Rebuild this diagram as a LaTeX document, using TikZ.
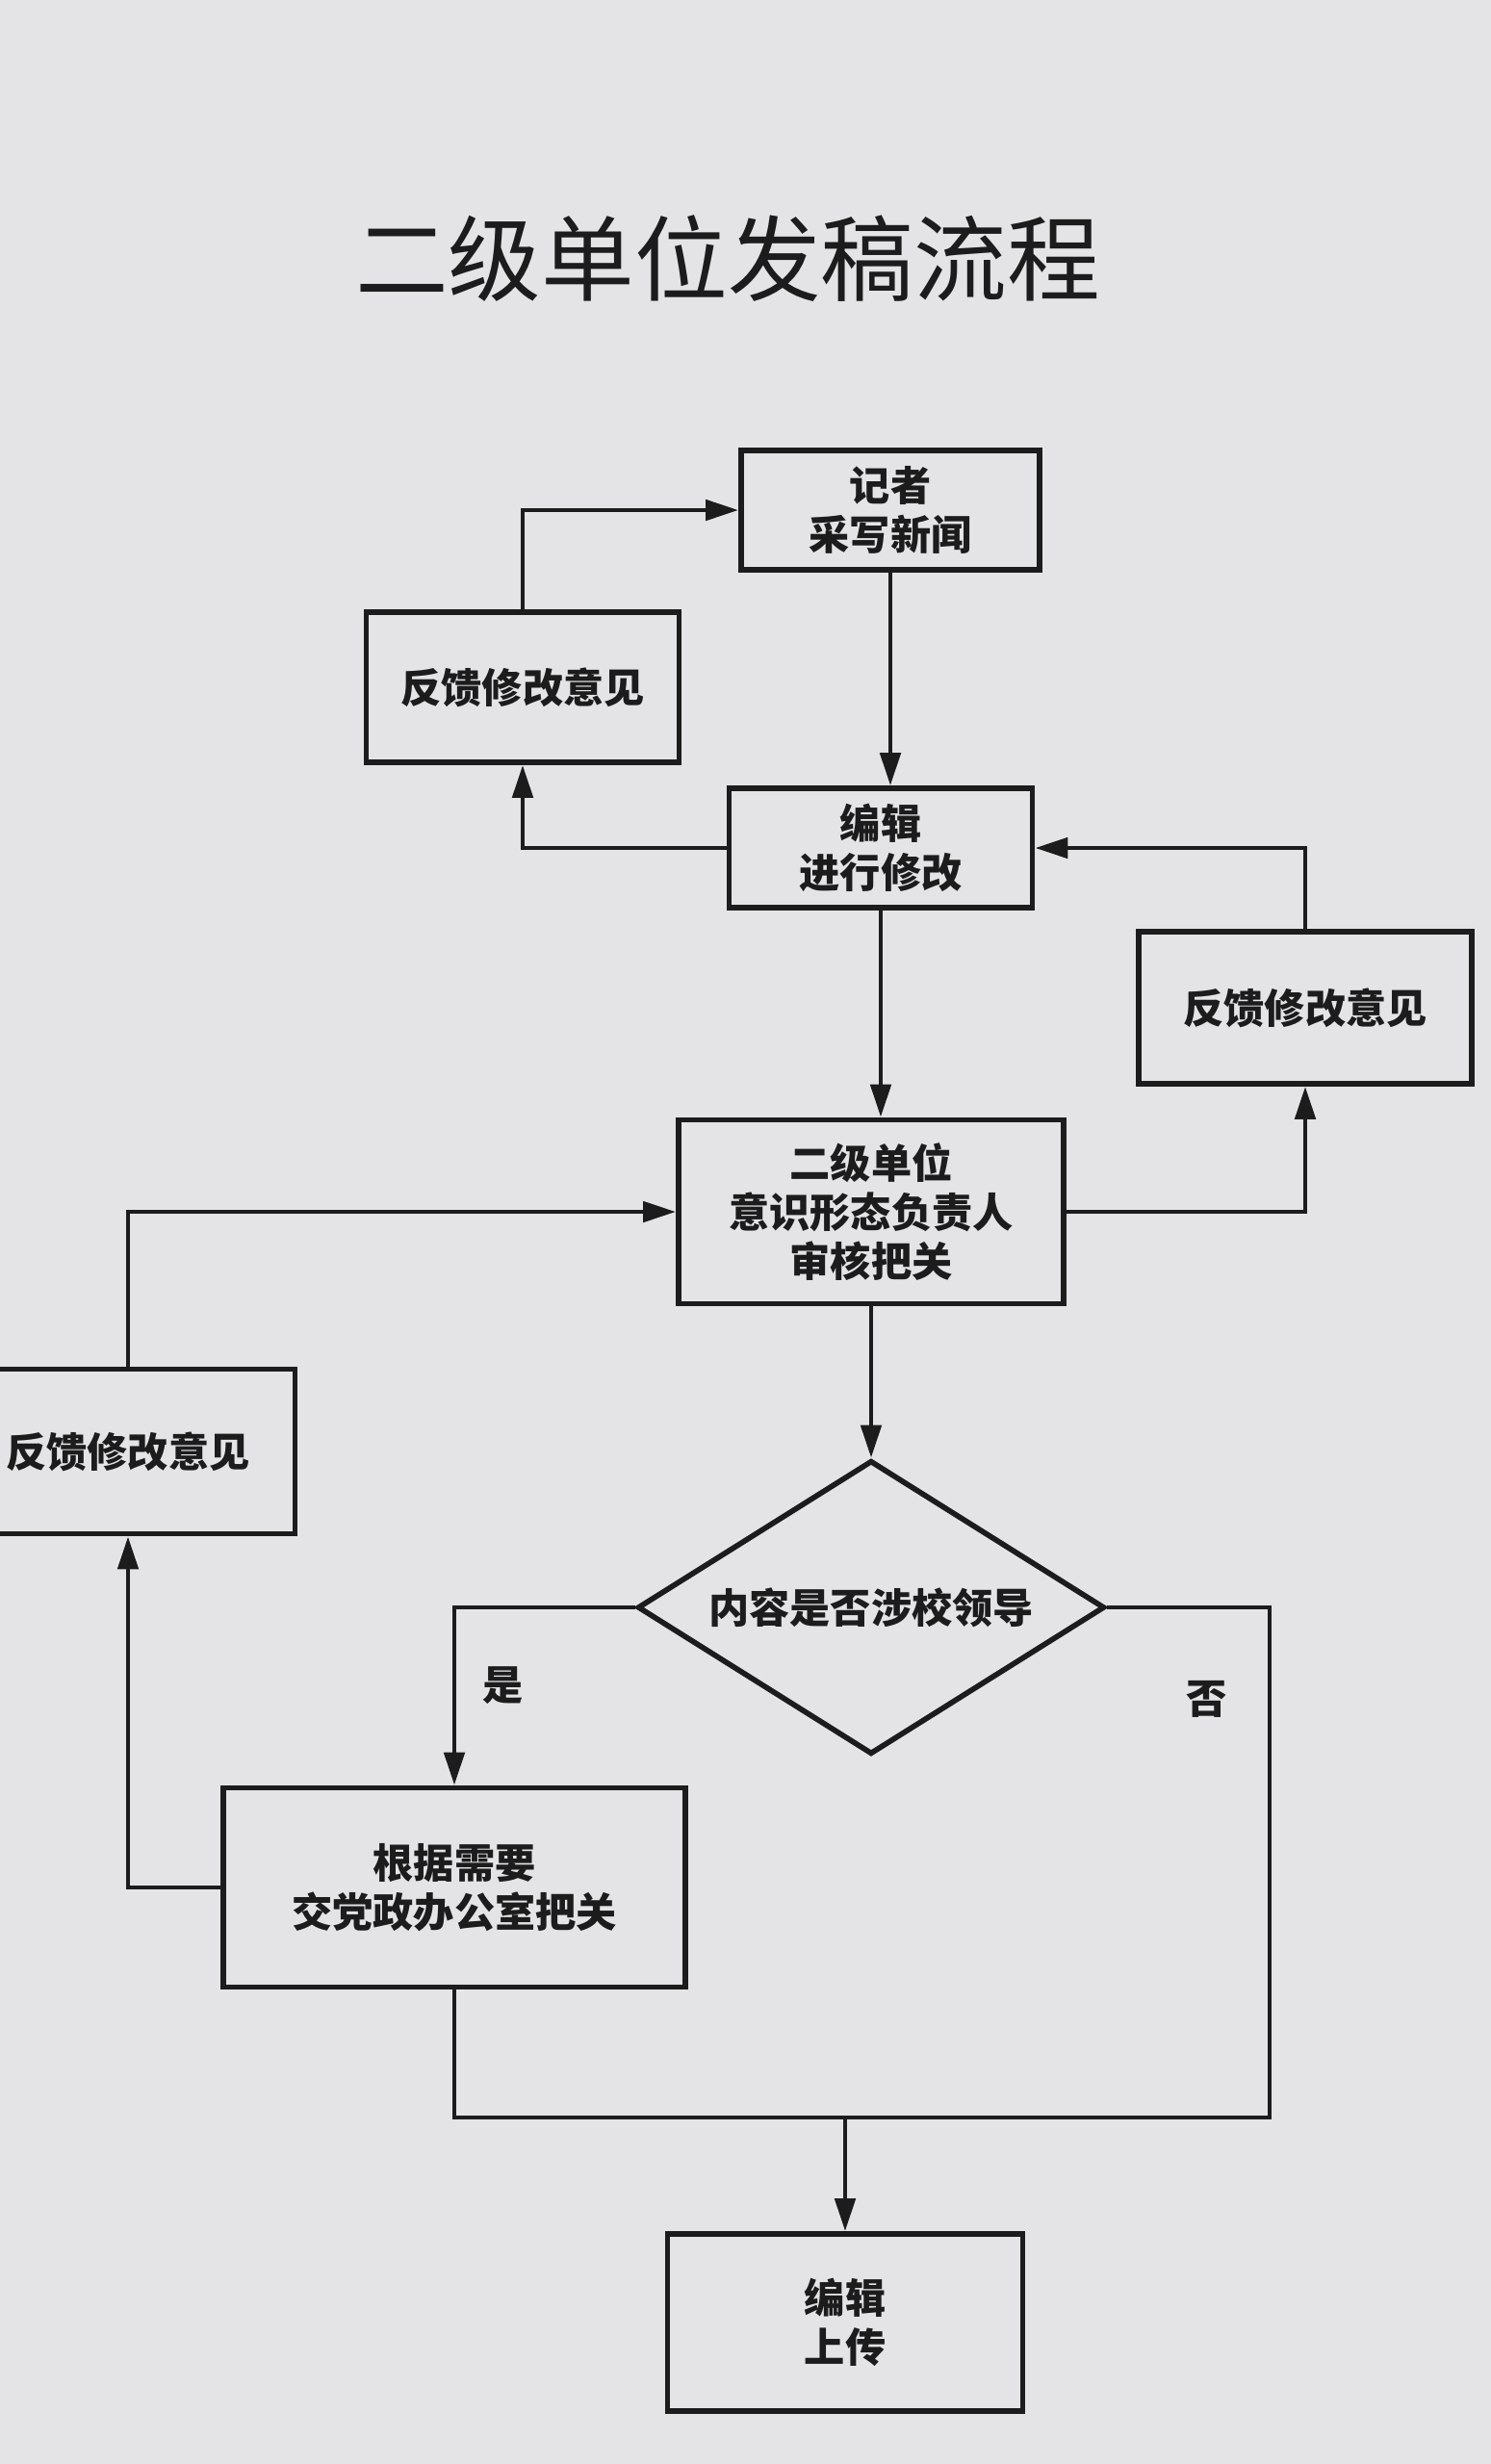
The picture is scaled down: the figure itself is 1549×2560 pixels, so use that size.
\documentclass[tikz,border=0pt]{standalone}
\usepackage{fontspec}
\setmainfont{Noto Sans CJK SC}
\newfontfamily\cjk{Noto Sans CJK SC}
\usepackage{tikz}
\usetikzlibrary{shapes, positioning, arrows.meta}

\definecolor{paper}{RGB}{228,228,231}
\definecolor{ink}{RGB}{28,28,28}

\tikzset{
  >={Triangle[length=0.34cm, width=0.21cm]},
  box/.style={draw=ink, line width=1.6pt, align=center, text=ink,
    font=\cjk\fontsize{12pt}{14.5pt}\selectfont\bfseries},
  decision/.style={box, diamond, aspect=1.6, inner sep=0pt},
  flow/.style={draw=ink, line width=1.4pt},
  tag/.style={text=ink, font=\cjk\fontsize{12pt}{14pt}\selectfont\bfseries}
}

\begin{document}
\begin{tikzpicture}[x=0.01cm, y=-0.01cm]
        \fill[paper] (0,0) rectangle (1549,2560);
        \useasboundingbox (0,0) rectangle (1549,2560);

        \node[text=ink, font=\cjk\fontsize{27.5pt}{30pt}\selectfont] (title) at (756,269) {二级单位发稿流程};

        \node[box, minimum width=3.1cm, minimum height=1.24cm] (rep) at (925,530) {记者\\采写新闻};
        \node[box, minimum width=3.25cm, minimum height=1.56cm] (fb1) at (543,714) {反馈修改意见};
        \node[box, minimum width=3.15cm, minimum height=1.24cm] (edit) at (915,881) {编辑\\进行修改};
        \node[box, minimum width=3.46cm, minimum height=1.58cm] (fb2) at (1356,1047) {反馈修改意见};
        \node[box, minimum width=4.0cm, minimum height=1.91cm] (review) at (905,1259) {二级单位\\意识形态负责人\\审核把关};
        \node[box, minimum width=3.47cm, minimum height=1.71cm] (fb3) at (133,1508) {反馈修改意见};
        \node[decision, minimum width=4.85cm, minimum height=3.05cm] (check) at (905,1670) {内容是否涉校领导};
        \node[box, minimum width=4.8cm, minimum height=2.07cm] (ask) at (472,1961) {根据需要\\交党政办公室把关};
        \node[box, minimum width=3.69cm, minimum height=1.84cm] (upload) at (878,2413) {编辑\\上传};

        \coordinate (turn) at (1319,2200);
        \coordinate (join) at (878,2200);

        \draw[flow, ->] (fb1.north) |- (rep.west);
        \draw[flow, ->] (rep.south) -- (rep.south |- edit.north);
        \draw[flow, ->] (edit.west) -| (fb1.south);
        \draw[flow, ->] (edit.south) -- (edit.south |- review.north);
        \draw[flow, ->] (review.east) -| (fb2.south);
        \draw[flow, ->] (fb2.north) |- (edit.east);
        \draw[flow, ->] (review.south) -- (check.north);
        \draw[flow, ->] (fb3.north) |- (review.west);
        \draw[flow, ->] (ask.west) -| (fb3.south);
        \draw[flow, ->] (check.west) -| node[tag, pos=0.72, right=0.15cm] {是} (ask.north);
        \draw[flow] (check.east) -| node[tag, pos=0.59, left=0.3cm] {否} (turn) -- (join);
        \draw[flow] (ask.south) |- (join);
        \draw[flow, ->] (join) -- (upload.north);
    \end{tikzpicture}
\end{document}
